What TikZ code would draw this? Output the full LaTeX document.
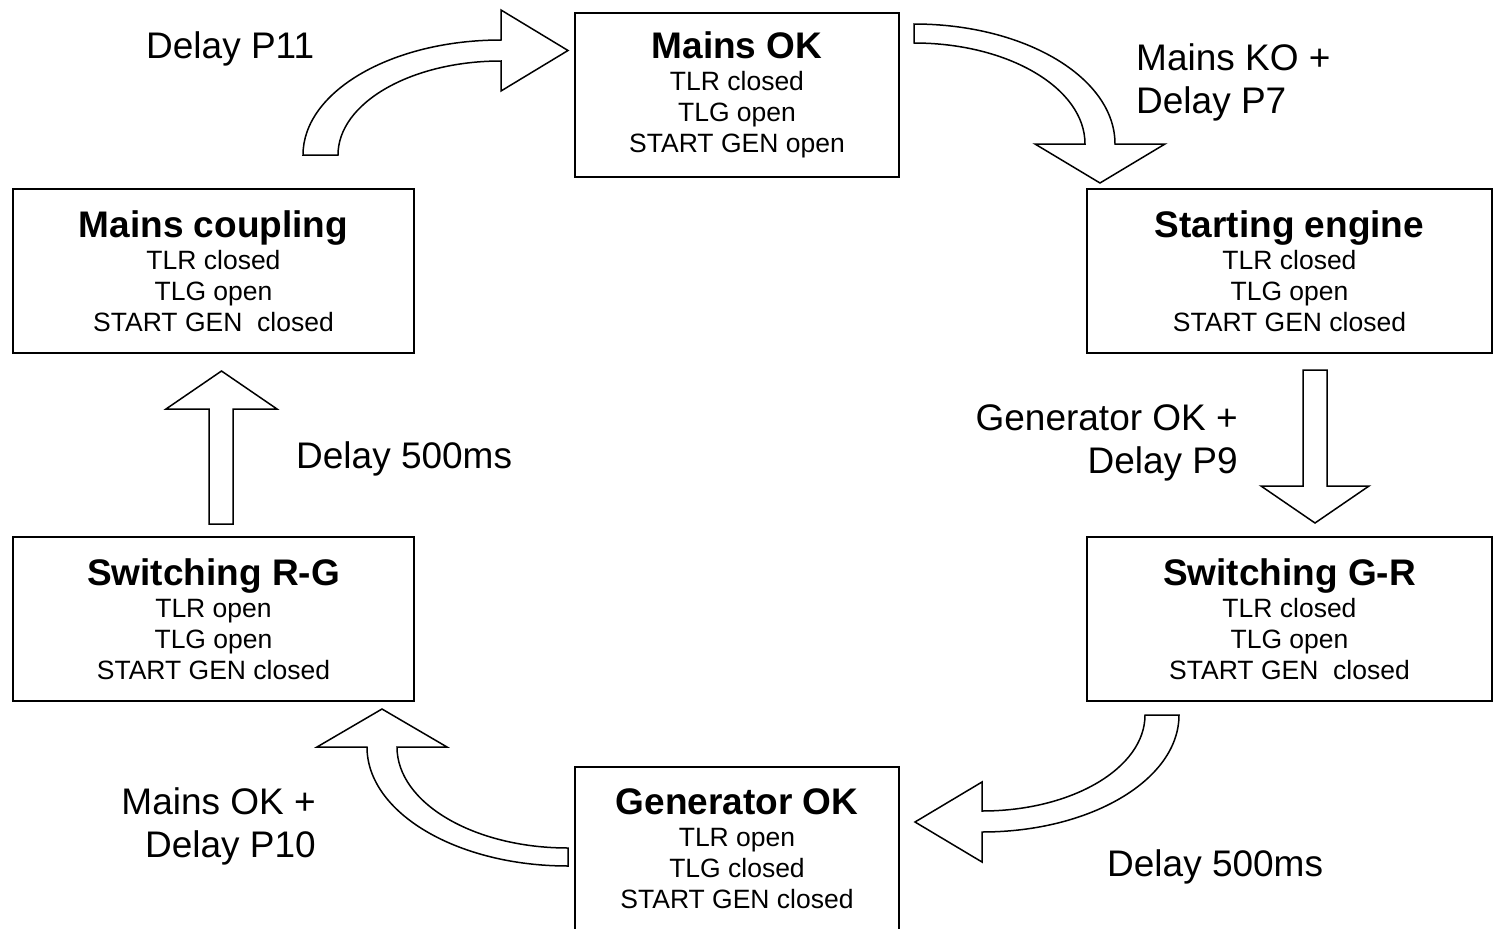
\documentclass[tikz,border=0pt]{standalone}
\usepackage{fontspec}
\setmainfont{Liberation Sans}
\usepackage{tikz}

\newcommand{\boxtitle}{\fontsize{37}{43}\selectfont\bfseries}
\newcommand{\boxtext}{\fontsize{26.5}{31}\selectfont}
\newcommand{\labeltext}{\fontsize{37}{43}\selectfont}

\begin{document}
\begin{tikzpicture}[x=1pt,y=-1pt,
  statebox/.style={draw,line width=1.5pt,inner sep=0pt,align=center,font=\boxtext,minimum height=164pt},
  flowarrow/.style={draw,fill=white,line width=1.5pt,line join=miter},
  steplabel/.style={font=\labeltext,inner sep=0pt}]
		\useasboundingbox (0,0) rectangle (1500,929);
		% states of the changeover cycle
		\node[statebox,minimum width=324pt] (mainsok) at (737,95) {{\boxtitle Mains OK}\\[1pt]TLR closed\\TLG open\\START GEN open};
		\node[statebox,minimum width=405pt] (starting) at (1289.5,271) {{\boxtitle Starting engine}\\[1pt]TLR closed\\TLG open\\START GEN closed};
		\node[statebox,minimum width=405pt] (switchgr) at (1289.5,619) {{\boxtitle Switching G-R}\\[1pt]TLR closed\\TLG open\\START GEN~ closed};
		\node[statebox,minimum width=324pt] (genok) at (737,849) {{\boxtitle Generator OK}\\[1pt]TLR open\\TLG closed\\START GEN closed};
		\node[statebox,minimum width=401pt] (switchrg) at (213.5,619) {{\boxtitle Switching R-G}\\[1pt]TLR open\\TLG open\\START GEN closed};
		\node[statebox,minimum width=401pt] (coupling) at (213.5,271) {{\boxtitle Mains coupling}\\[1pt]TLR closed\\TLG open\\START GEN~ closed};
		% block arrows
		\draw[flowarrow] (303,155) .. controls (303,91.5) and (391.6,40) .. (501,40)
			-- (501,10) -- (568,50.5) -- (501,91) -- (501,61)
			.. controls (411,61) and (338,103) .. (338,155) -- cycle;
		\draw[flowarrow] (914,24) .. controls (1025,24) and (1115,77.7) .. (1115,144)
			-- (1165,144) -- (1100,183) -- (1035,144) -- (1085,144)
			.. controls (1085,88.2) and (1008.4,43) .. (914,43) -- cycle;
		\draw[flowarrow] (1303,370) -- (1327,370) -- (1327,486) -- (1369,486)
			-- (1315,523) -- (1261,486) -- (1303,486) -- cycle;
		\draw[flowarrow] (1179,715) .. controls (1179,779.6) and (1090.8,832) .. (982,832)
			-- (982,862) -- (915,822) -- (982,782) -- (982,811)
			.. controls (1072,811) and (1145,768) .. (1145,715) -- cycle;
		\draw[flowarrow] (568,866) .. controls (457,866) and (367,812.7) .. (367,747)
			-- (317,747) -- (382,709) -- (447,747) -- (397,747)
			.. controls (397,802.8) and (473.6,848) .. (568,848) -- cycle;
		\draw[flowarrow] (209,524) -- (209,409) -- (166,409) -- (221.5,371)
			-- (277,409) -- (233,409) -- (233,524) -- cycle;
		% transition labels
		\node[steplabel,anchor=base west] (lblp11) at (146,58) {Delay P11};
		\node[steplabel,anchor=west,align=left] (lblp7) at (1136,82) {Mains KO +\\Delay P7};
		\node[steplabel,anchor=east,align=right] (lblp9) at (1238,443) {Generator OK +\\Delay P9};
		\node[steplabel,anchor=base west] (lbldelayb) at (1107,876) {Delay 500ms};
		\node[steplabel,anchor=east,align=right] (lblp10) at (316,826) {Mains OK +\\Delay P10};
		\node[steplabel,anchor=base west] (lbldelaya) at (296,468) {Delay 500ms};
	\end{tikzpicture}
\end{document}
